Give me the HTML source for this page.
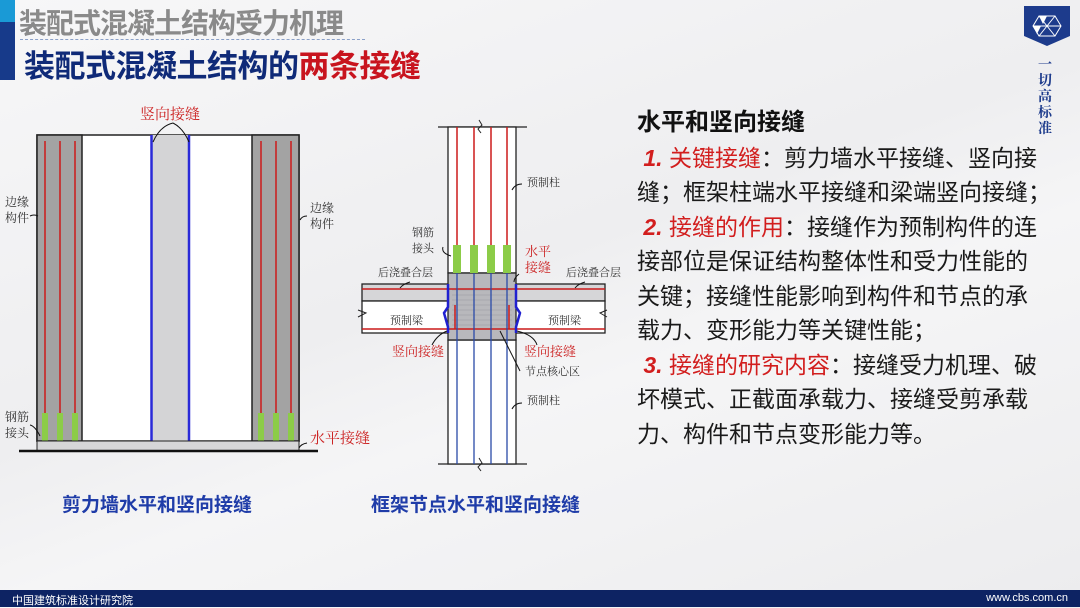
<!DOCTYPE html>
<html><head><meta charset="utf-8"><style>
html,body{margin:0;padding:0}
body{width:1080px;height:607px;position:relative;overflow:hidden;background:linear-gradient(160deg,#f7f7f8 0%,#eeeef0 45%,#f5f5f6 60%,#ececee 100%);font-family:"Liberation Sans","Noto Sans CJK SC",sans-serif}
.t1{position:absolute;left:19px;top:2px;font-size:28px;font-weight:bold;color:#8a8a8a;letter-spacing:-1px;white-space:nowrap}
.t2{position:absolute;left:24px;top:41px;font-size:31px;font-weight:bold;color:#0f2a78;white-space:nowrap;letter-spacing:-0.5px}
.bar1{position:absolute;left:0;top:0;width:15px;height:22px;background:#1a9ad6}
.bar2{position:absolute;left:0;top:22px;width:15px;height:58px;background:#173a8a}
.dash{position:absolute;left:20px;top:39px;width:345px;border-top:1px dashed #8aa0c8}
.foot{position:absolute;left:0;top:590px;width:1080px;height:17px;background:#0d2363;color:#fff;font-size:11px}
.txt{position:absolute;left:637px;top:106px;font-size:23px;line-height:34.5px;color:#1a1a1a;white-space:nowrap}
.r{color:#d21e1e}
.cap{position:absolute;font-size:19px;font-weight:bold;color:#1f3ca8;white-space:nowrap}
</style></head><body>
<div class="bar1"></div><div class="bar2"></div>
<div class="t1">装配式混凝土结构受力机理</div>
<div class="dash"></div>
<div class="t2">装配式混凝土结构的<span style="color:#c8141e">两条接缝</span></div>

<svg style="position:absolute;left:1024px;top:6px" width="46" height="40"><polygon points="0,0 46,0 46,30 23,40 0,30" fill="#1d3b8c"/><g stroke="#fff" stroke-width="1" fill="none"><polygon points="15,10 31,10 37,20 31,30 15,30 9,20"/><line x1="9" y1="20" x2="37" y2="20"/><line x1="15" y1="10" x2="31" y2="30"/><line x1="31" y1="10" x2="15" y2="30"/></g><polygon points="15,10 23,10 19,18" fill="#fff"/><polygon points="9,20 17,20 13,28" fill="#fff"/></svg>
<div style="position:absolute;left:1038px;top:56px;width:16px;font-size:14px;line-height:16px;color:#1d3b8c;font-weight:bold;font-family:'Noto Serif CJK SC',serif">一<br>切<br>高<br>标<br>准</div>

<svg style="position:absolute;left:0;top:0" width="630" height="480" font-family="Liberation Serif,Noto Serif CJK SC,serif">
<rect x="37" y="135" width="262" height="306" fill="#fff" stroke="#222" stroke-width="1.5"/>
<rect x="37" y="135" width="45" height="306" fill="#a3a3a3" stroke="#222" stroke-width="1.5"/>
<rect x="252" y="135" width="47" height="306" fill="#a3a3a3" stroke="#222" stroke-width="1.5"/>
<rect x="151" y="135" width="38" height="306" fill="#d4d4d6"/>
<line x1="151.5" y1="135" x2="151.5" y2="441" stroke="#2a2ad8" stroke-width="2.5"/>
<line x1="189" y1="135" x2="189" y2="441" stroke="#2a2ad8" stroke-width="2.5"/>
<g stroke="#cc1a1a" stroke-width="1.5"><line x1="45" y1="141" x2="45" y2="413"/><line x1="60" y1="141" x2="60" y2="413"/><line x1="75" y1="141" x2="75" y2="413"/><line x1="261" y1="141" x2="261" y2="413"/><line x1="276" y1="141" x2="276" y2="413"/><line x1="291" y1="141" x2="291" y2="413"/></g>
<g fill="#8ccc48"><rect x="42" y="413" width="6" height="28"/><rect x="57" y="413" width="6" height="28"/><rect x="72" y="413" width="6" height="28"/><rect x="258" y="413" width="6" height="28"/><rect x="273" y="413" width="6" height="28"/><rect x="288" y="413" width="6" height="28"/></g>
<rect x="37" y="441" width="262" height="10" fill="#d6d6d8" stroke="#222" stroke-width="1"/>
<line x1="19" y1="451" x2="318" y2="451" stroke="#111" stroke-width="2.5"/>
<text x="140" y="119" font-size="15" fill="#cc2222">竖向接缝</text>
<path d="M173,123 Q160,126 153,142 M173,123 Q183,128 189,142" stroke="#111" fill="none"/>
<text x="5" y="206" font-size="12" fill="#333">边缘</text><text x="5" y="222" font-size="12" fill="#333">构件</text>
<path d="M30,216 q4,-2 8,0" stroke="#111" fill="none"/>
<text x="310" y="212" font-size="12" fill="#333">边缘</text><text x="310" y="228" font-size="12" fill="#333">构件</text>
<path d="M300,220 q2,-4 7,-4" stroke="#111" fill="none"/>
<text x="5" y="421" font-size="12" fill="#333">钢筋</text><text x="5" y="437" font-size="12" fill="#333">接头</text>
<path d="M30,425 q5,1 10,11" stroke="#111" fill="none"/>
<text x="310" y="443" font-size="15" fill="#cc2222">水平接缝</text>
<path d="M299,448 q2,-4 8,-5" stroke="#111" fill="none"/>

<g stroke="#222" stroke-width="1.3">
<line x1="438" y1="127" x2="527" y2="127"/><line x1="438" y1="464" x2="527" y2="464"/>
</g>
<rect x="448" y="127" width="68" height="146" fill="#fff" stroke="#222" stroke-width="1.3"/>
<rect x="362" y="284" width="243" height="17" fill="#d6d6d8" stroke="#222" stroke-width="1.3"/>
<rect x="362" y="301" width="243" height="32" fill="#fff" stroke="#222" stroke-width="1.3"/>
<rect x="448" y="340" width="68" height="124" fill="#fff" stroke="#222" stroke-width="1.3"/>
<rect x="448" y="273" width="68" height="67" fill="#b8b8bc" stroke="#222" stroke-width="1.3"/>
<g stroke="#9a9aa0" stroke-width="0.6"><line x1="452" y1="290" x2="512" y2="290"/><line x1="452" y1="295" x2="512" y2="295"/><line x1="452" y1="300" x2="512" y2="300"/><line x1="452" y1="305" x2="512" y2="305"/><line x1="452" y1="310" x2="512" y2="310"/><line x1="452" y1="315" x2="512" y2="315"/><line x1="452" y1="320" x2="512" y2="320"/><line x1="452" y1="325" x2="512" y2="325"/></g>
<g stroke="#cc1a1a" stroke-width="1.5"><line x1="457" y1="127" x2="457" y2="245"/><line x1="474" y1="127" x2="474" y2="245"/><line x1="491" y1="127" x2="491" y2="245"/><line x1="507" y1="127" x2="507" y2="245"/>
<line x1="362" y1="289" x2="605" y2="289"/><line x1="362" y1="329" x2="605" y2="329"/><line x1="455" y1="329" x2="455" y2="305"/><line x1="509" y1="329" x2="509" y2="305"/></g>
<g fill="#8ccc48"><rect x="453" y="245" width="8" height="28"/><rect x="470" y="245" width="8" height="28"/><rect x="487" y="245" width="8" height="28"/><rect x="503" y="245" width="8" height="28"/></g>
<g stroke="#2a4aa8" stroke-width="1.3"><line x1="457" y1="273" x2="457" y2="464"/><line x1="474" y1="273" x2="474" y2="464"/><line x1="491" y1="273" x2="491" y2="464"/><line x1="507" y1="273" x2="507" y2="464"/></g>
<path d="M448,284 L448,307 L444,313 L448,327 L448,333" stroke="#2020d0" stroke-width="2.5" fill="none"/>
<path d="M516,284 L516,307 L520,313 L516,327 L516,333" stroke="#2020d0" stroke-width="2.5" fill="none"/>
<path d="M479,120 l3,5 -4,4 3,4" stroke="#222" fill="none"/><path d="M479,458 l3,5 -4,4 3,4" stroke="#222" fill="none"/>
<path d="M358,310 l8,3 -8,4" stroke="#222" fill="none"/><path d="M607,310 l-7,3 7,4" stroke="#222" fill="none"/>
<g font-size="11" fill="#333">
<text x="527" y="186">预制柱</text><path d="M512,190 q3,-6 10,-6" stroke="#111" fill="none"/>
<text x="412" y="236">钢筋</text><text x="412" y="252">接头</text><path d="M443,247 q-2,6 8,9" stroke="#111" fill="none"/>
<text x="378" y="276">后浇叠合层</text><path d="M400,288 q3,-4 10,-6" stroke="#111" fill="none"/>
<text x="566" y="276">后浇叠合层</text><path d="M575,288 q3,-4 10,-6" stroke="#111" fill="none"/>
<text x="390" y="324">预制梁</text><text x="548" y="324">预制梁</text>
<text x="525" y="375">节点核心区</text><path d="M500,331 q10,20 20,40" stroke="#111" fill="none"/>
<text x="527" y="404">预制柱</text><path d="M512,409 q3,-6 10,-6" stroke="#111" fill="none"/>
</g>
<g font-size="13" fill="#cc2222">
<text x="525" y="256">水平</text><text x="525" y="272">接缝</text><path d="M514,282 q0,-4 5,-8" stroke="#111" fill="none"/>
<text x="392" y="356">竖向接缝</text><path d="M432,345 q5,-10 15,-14" stroke="#111" fill="none"/>
<text x="524" y="356">竖向接缝</text><path d="M537,345 q-3,-10 -20,-14" stroke="#111" fill="none"/>
</g>
</svg>

<div class="cap" style="left:62px;top:490px">剪力墙水平和竖向接缝</div>
<div class="cap" style="left:371px;top:490px">框架节点水平和竖向接缝</div>

<div class="txt">
<div style="font-weight:bold;font-size:24px;color:#111">水平和竖向接缝</div>
<div>&nbsp;<span class="r"><b><i>1.</i></b> 关键接缝</span>：剪力墙水平接缝、竖向接</div>
<div>缝；框架柱端水平接缝和梁端竖向接缝；</div>
<div>&nbsp;<span class="r"><b><i>2.</i></b> 接缝的作用</span>：接缝作为预制构件的连</div>
<div>接部位是保证结构整体性和受力性能的</div>
<div>关键；接缝性能影响到构件和节点的承</div>
<div>载力、变形能力等关键性能；</div>
<div>&nbsp;<span class="r"><b><i>3.</i></b> 接缝的研究内容</span>：接缝受力机理、破</div>
<div>坏模式、正截面承载力、接缝受剪承载</div>
<div>力、构件和节点变形能力等。</div>
</div>

<div class="foot"><span style="position:absolute;left:12px;top:2px">中国建筑标准设计研究院</span><span style="position:absolute;right:12px;top:2px">www.cbs.com.cn</span></div>
</body></html>
